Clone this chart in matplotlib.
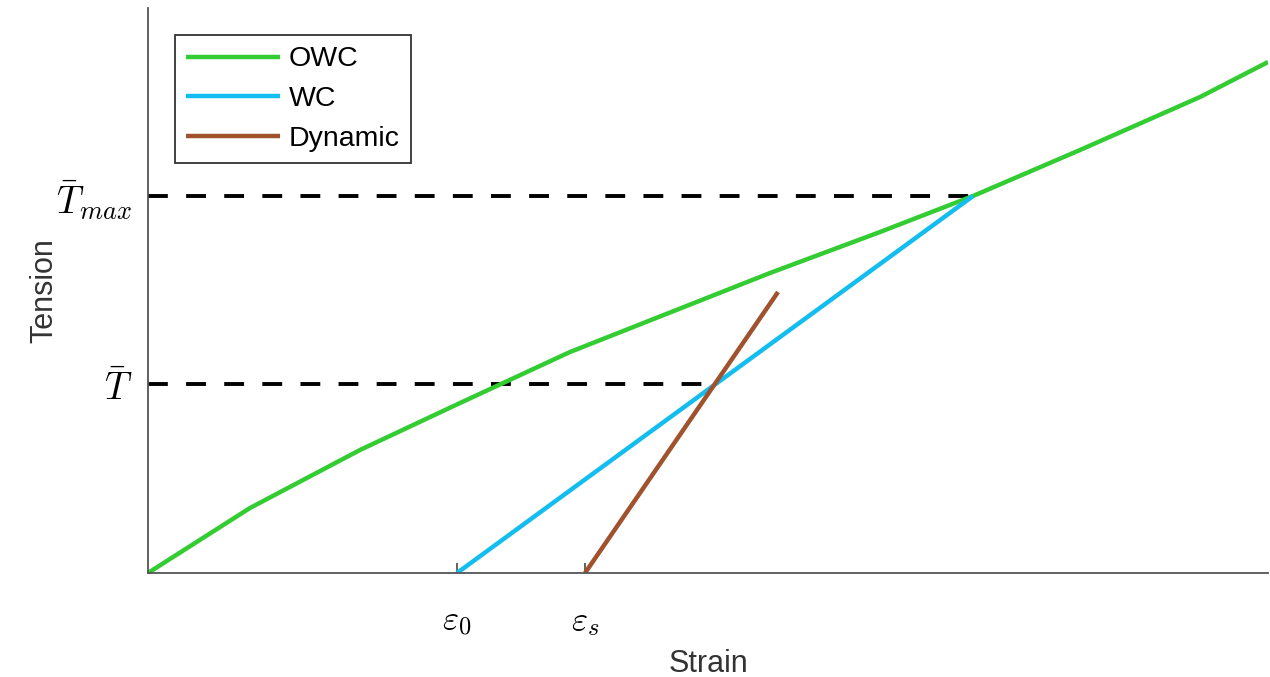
import numpy as np
import matplotlib.pyplot as plt

plt.rcParams['font.family'] = ['Liberation Sans', 'DejaVu Sans']
plt.rcParams['mathtext.fontset'] = 'cm'

# curvas (unidades arbitrarias)
owc_x = [0, 102, 212, 312, 422, 622, 732, 825, 932, 1052, 1120]
owc_y = [0, 65, 123, 170, 221, 300, 341, 377, 423, 476, 511]
wc_x = [309, 825]
wc_y = [0, 377]
dyn_x = [437, 630]
dyn_y = [0, 281]

T_max = 377
T_bar = 189
eps_0 = 309
eps_s = 437
x_Tmax = 825
x_Tbar = 568

fig = plt.figure(figsize=(12.7, 6.77), dpi=100)
ax = fig.add_axes([0.1165, 0.1536, 0.882, 0.8346])

ax.plot([0, x_Tmax], [T_max, T_max], '--', color='black', lw=2.8, dashes=(5.1, 4.7))
ax.plot([0, x_Tbar], [T_bar, T_bar], '--', color='black', lw=2.8, dashes=(5.1, 4.7))

ax.plot(owc_x, owc_y, color='#33cc33', lw=3.2, label='OWC', solid_capstyle='butt')
ax.plot(wc_x, wc_y, color='#14bdf0', lw=3.2, label='WC', solid_capstyle='butt')
ax.plot(dyn_x, dyn_y, color='#a0522d', lw=3.2, label='Dynamic', solid_capstyle='butt')

ax.set_xlim(0, 1120)
ax.set_ylim(0, 565)
ax.spines['top'].set_visible(False)
ax.spines['right'].set_visible(False)
for s in ['left', 'bottom']:
    ax.spines[s].set_color('#555555')
    ax.spines[s].set_linewidth(1.3)

ax.set_xticks([eps_0, eps_s])
ax.set_xticklabels([r'$\varepsilon_0$', r'$\varepsilon_s$'], fontsize=25)
ax.set_yticks([T_bar, T_max])
ax.set_yticklabels([r'$\bar{T}$', r'$\bar{T}_{max}$'], fontsize=27)
ax.tick_params(axis='x', direction='in', length=7, width=1.3, color='#555555', pad=23)
ax.tick_params(axis='y', direction='in', length=7, width=1.3, color='#555555', pad=11)

ax.set_xlabel('Strain', fontsize=22, color='#333333', labelpad=8)
ax.set_ylabel('Tension', fontsize=22, color='#333333', labelpad=-2)

leg = ax.legend(loc='upper left', bbox_to_anchor=(0.024, 0.952), borderaxespad=0,
                fontsize=20.5, handlelength=3.3, handletextpad=0.3, borderpad=0.4,
                labelspacing=0.48, fancybox=False, framealpha=1)
leg.get_frame().set_edgecolor('#333333')
leg.get_frame().set_linewidth(1.3)

plt.savefig('out.png', dpi=100)
